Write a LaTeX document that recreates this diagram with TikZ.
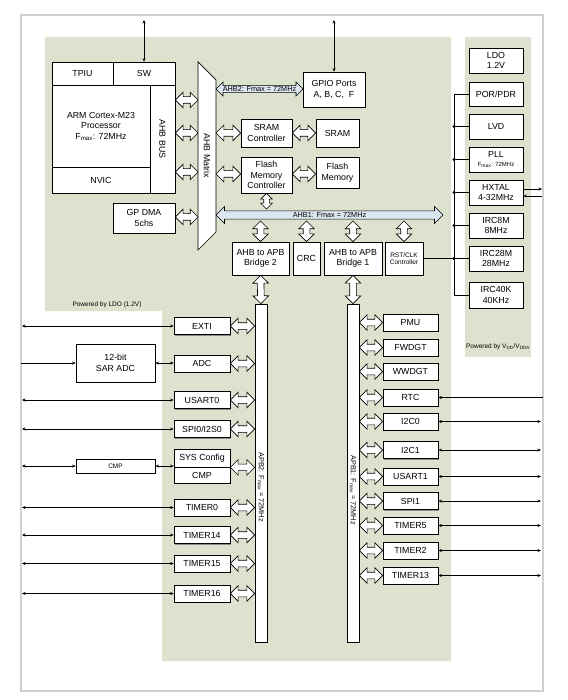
\documentclass[tikz,border=0pt]{standalone}
\usepackage{fontspec}
\setmainfont{Liberation Sans}
\usetikzlibrary{shapes.arrows,arrows.meta,calc,shadows}
\definecolor{panel}{RGB}{221,226,206}
\definecolor{busblue}{RGB}{221,231,242}
\definecolor{framegray}{RGB}{208,208,208}
\newcommand{\fsmain}{\fontsize{8.8}{10.5}\selectfont}
\newcommand{\fssmall}{\fontsize{6.5}{7.5}\selectfont}
% hollow bus arrow between two points
\newcommand{\wide}[3][hollow]{\path let \p1=(#2), \p2=(#3),
  \n1={veclen(\x2-\x1,\y2-\y1)}, \n2={atan2(\y2-\y1,\x2-\x1)} in
  node[#1, minimum height=\n1, rotate=\n2] at ($(\p1)!0.5!(\p2)$) {};}
\begin{document}
\begin{tikzpicture}[x=1pt,y=-1pt,
    box/.style={draw, fill=white, line width=0.7pt, inner sep=0pt, align=center, font=\fsmain,
      drop shadow={shadow xshift=1pt, shadow yshift=-1pt, fill=black!45, opacity=1}},
    hollow/.style={double arrow, draw, fill=white, line width=0.6pt, inner sep=3pt,
      double arrow head extend=4.5pt, double arrow tip angle=90},
    hollowsmall/.style={hollow, inner sep=2.5pt, double arrow head extend=3pt},
    bus/.style={double arrow, draw, fill=busblue, line width=0.6pt, inner sep=0.5pt,
      double arrow head extend=3.5pt, double arrow tip angle=90, font=\fontsize{7.3}{8}\selectfont},
    sig/.style={{Stealth[length=3.5pt,width=3pt]}-{Stealth[length=3.5pt,width=3pt]}, line width=0.5pt},
    sigin/.style={-{Stealth[length=3.5pt,width=3pt]}, line width=0.5pt}]
  \useasboundingbox (0,0) rectangle (567,700);
  \draw[framegray, line width=1.5pt] (21,15) rectangle (543,691);
  \fill[panel] (45,37) -- (451,37) -- (451,661) -- (162,661) -- (162,311) -- (45,311) -- cycle;
  \fill[panel] (465,37) rectangle (531,357);
  \node[font=\fssmall] (ldonote) at (107,305) {Powered by LDO (1.2V)};
  \node[font=\fssmall] (vddnote) at (498,347) {Powered by V\textsubscript{DD}/V\textsubscript{DDA}};

  % core and AHB side
  \node[box, minimum width=61, minimum height=23] (tpiu) at (82.5,73.5) {TPIU};
  \node[box, minimum width=62, minimum height=23] (sw) at (144,73.5) {SW};
  \node[box, minimum width=98, minimum height=82] (core) at (101,126) {ARM Cortex-M23\\Processor\\F\textsubscript{max}: 72MHz};
  \node[box, minimum width=25, minimum height=108] (ahbbus) at (162.5,139) {};
  \node[rotate=-90, font=\fsmain] (ahbbustxt) at (ahbbus) {AHB BUS};
  \node[box, minimum width=98, minimum height=26] (nvic) at (101,180) {NVIC};
  \node[box, minimum width=62, minimum height=30] (dma) at (144,218) {GP DMA\\5chs};
  \draw[fill=white, line width=0.7pt] (198,62) -- (216,80) -- (216,232) -- (198,250) -- cycle;
  \node[rotate=-90, font=\fsmain] (matrix) at (207,156) {AHB Matrix};
  \coordinate (mw1) at (198,100);
  \coordinate (mw2) at (198,133);
  \coordinate (mw3) at (198,172);
  \coordinate (mw4) at (198,217);
  \coordinate (me1) at (216,133);
  \coordinate (me2) at (216,174);
  \coordinate (top) at (0,20);
  \draw[sig] (sw.north) -- (sw.north |- top);

  \node[box, minimum width=62, minimum height=35] (gpio) at (334,89.5) {GPIO Ports\\A, B, C,\ \ F};
  \draw[sig] (gpio.north) -- (gpio.north |- top);
  \node[bus, minimum height=87, minimum width=14] (ahb2) at (259.5,89) {AHB2: Fmax = 72MHz};
  \node[box, minimum width=51, minimum height=28] (sramc) at (266.5,133) {SRAM\\Controller};
  \node[box, minimum width=43, minimum height=28] (sram) at (337.5,133) {SRAM};
  \node[box, minimum width=51, minimum height=36] (flashc) at (266.5,175) {Flash\\Memory\\Controller};
  \node[box, minimum width=43, minimum height=31] (flash) at (337.5,172.5) {Flash\\Memory};
  \node[bus, minimum height=227, minimum width=17] (ahb1) at (329.5,215) {AHB1: Fmax = 72MHz};
  \coordinate (b1t) at (0,209);
  \coordinate (b1b) at (0,221);

  \node[box, minimum width=57, minimum height=33] (bridge2) at (260.5,258.5) {AHB to APB\\Bridge 2};
  \node[box, minimum width=27, minimum height=33] (crc) at (306.5,258.5) {CRC};
  \node[box, minimum width=58, minimum height=33] (bridge1) at (353,258.5) {AHB to APB\\Bridge 1};
  \node[box, minimum width=38, minimum height=33, font=\fssmall] (rstclk) at (404,258.5) {RST/CLK\\Controller};

  \wide{ahbbus.east |- mw1}{mw1}
  \wide{ahbbus.east |- mw2}{mw2}
  \wide{ahbbus.east |- mw3}{mw3}
  \wide{dma.east |- mw4}{mw4}
  \wide{me1}{sramc.west}
  \wide{sramc.east}{sram.west}
  \wide{me2}{flashc.west |- me2}
  \wide{flashc.east |- me2}{flash.west |- me2}
  \wide[hollowsmall]{flashc.south}{flashc.south |- b1t}
  \wide{bridge2.north |- b1b}{bridge2.north}
  \wide{crc.north |- b1b}{crc.north}
  \wide{bridge1.north |- b1b}{bridge1.north}
  \wide{rstclk.north |- b1b}{rstclk.north}

  % clock and power column
  \node[box, minimum width=54, minimum height=25] (ldo) at (496,60.5) {LDO\\1.2V};
  \node[box, minimum width=54, minimum height=24] (por) at (496,94) {POR/PDR};
  \node[box, minimum width=54, minimum height=25] (lvd) at (496,126.5) {LVD};
  \node[box, minimum width=54, minimum height=25] (pll) at (496,159.5) {PLL\\[-2pt]{\fontsize{6}{7}\selectfont F\textsubscript{max}: 72MHz}};
  \node[box, minimum width=54, minimum height=25] (hxtal) at (496,192.5) {HXTAL\\4-32MHz};
  \node[box, minimum width=54, minimum height=25] (irc8) at (496,225.5) {IRC8M\\8MHz};
  \node[box, minimum width=54, minimum height=25] (irc28) at (496,258.5) {IRC28M\\28MHz};
  \node[box, minimum width=54, minimum height=26] (irc40) at (496,295) {IRC40K\\40KHz};
  \coordinate (tree) at (454,0);
  \draw[line width=0.6pt] (por.west) -| (tree |- irc40.west) -- (irc40.west);
  \draw[line width=0.6pt] (lvd.west) -- (lvd.west -| tree);
  \draw[line width=0.6pt] (pll.west) -- (pll.west -| tree);
  \draw[line width=0.6pt] (hxtal.west) -- (hxtal.west -| tree);
  \draw[line width=0.6pt] (irc8.west) -- (irc8.west -| tree);
  \draw[line width=0.6pt] (irc28.west) -- (rstclk.east);
  \fill (lvd.west -| tree) circle (1.6pt);
  \fill (pll.west -| tree) circle (1.6pt);
  \fill (hxtal.west -| tree) circle (1.6pt);
  \fill (irc8.west -| tree) circle (1.6pt);
  \fill (irc28.west -| tree) circle (1.6pt);
  \coordinate (xout) at (542,189);
  \coordinate (xin) at (542,196);
  \draw[sigin] (hxtal.east |- xout) -- (xout);
  \draw[sigin] (xin) -- (hxtal.east |- xin);

  % APB buses
  \node[box, minimum width=12, minimum height=338] (apb2) at (261,473) {};
  \node[rotate=-90, font=\fontsize{7.3}{8}\selectfont] (apb2txt) at (261,487) {APB2: F\textsubscript{max} = 72MHz};
  \node[box, minimum width=12, minimum height=338] (apb1) at (353,473) {};
  \node[rotate=-90, font=\fontsize{7.3}{8}\selectfont] (apb1txt) at (353,490) {APB1: F\textsubscript{max} = 72MHz};
  \wide{bridge2.south}{apb2.north}
  \wide{bridge1.south}{apb1.north}

  % APB2 peripherals
  \coordinate (lx) at (22,0);
  \coordinate (lx0) at (21,0);
  \node[box, minimum width=56, minimum height=17] (exti) at (202,326) {EXTI};
  \node[box, minimum width=56, minimum height=17] (adc) at (202,363.5) {ADC};
  \node[box, minimum width=79, minimum height=38] (sar) at (115.5,363) {12-bit\\SAR ADC};
  \node[box, minimum width=56, minimum height=17] (usart0) at (202,400) {USART0};
  \node[box, minimum width=56, minimum height=17] (spi0) at (202,429) {SPI0/I2S0};
  \node[box, minimum width=56, minimum height=18] (syscfg) at (202,458) {SYS Config};
  \node[box, minimum width=56, minimum height=16] (cmp) at (202,475) {CMP};
  \node[box, minimum width=79, minimum height=14, font=\fssmall] (cmps) at (115.5,466) {CMP};
  \node[box, minimum width=56, minimum height=17] (timer0) at (202,507.5) {TIMER0};
  \node[box, minimum width=56, minimum height=17] (timer14) at (202,535) {TIMER14};
  \node[box, minimum width=56, minimum height=17] (timer15) at (202,563.5) {TIMER15};
  \node[box, minimum width=56, minimum height=17] (timer16) at (202,593.5) {TIMER16};
  \wide{exti.east}{exti.east -| apb2.west}
  \wide{adc.east}{adc.east -| apb2.west}
  \wide{usart0.east}{usart0.east -| apb2.west}
  \wide{spi0.east}{spi0.east -| apb2.west}
  \wide{syscfg.south east}{syscfg.south east -| apb2.west}
  \wide{timer0.east}{timer0.east -| apb2.west}
  \wide{timer14.east}{timer14.east -| apb2.west}
  \wide{timer15.east}{timer15.east -| apb2.west}
  \wide{timer16.east}{timer16.east -| apb2.west}
  \draw[sig] (exti.west) -- (exti.west -| lx);
  \draw[sigin] (sar.west -| lx0) -- (sar.west);
  \draw[sig] (sar.east) -- (sar.east -| adc.west);
  \draw[sig] (usart0.west) -- (usart0.west -| lx);
  \draw[sig] (spi0.west) -- (spi0.west -| lx);
  \draw[sig] (cmps.west) -- (cmps.west -| lx);
  \draw[sig] (cmps.east) -- (cmps.east -| cmp.west);
  \draw[sig] (timer0.west) -- (timer0.west -| lx);
  \draw[sig] (timer14.west) -- (timer14.west -| lx);
  \draw[sig] (timer15.west) -- (timer15.west -| lx);
  \draw[sig] (timer16.west) -- (timer16.west -| lx);

  % APB1 peripherals
  \coordinate (rx) at (541,0);
  \coordinate (rx0) at (543,0);
  \node[box, minimum width=55, minimum height=17] (pmu) at (410.5,322.5) {PMU};
  \node[box, minimum width=55, minimum height=17] (fwdgt) at (410.5,347.5) {FWDGT};
  \node[box, minimum width=55, minimum height=17] (wwdgt) at (410.5,371.5) {WWDGT};
  \node[box, minimum width=55, minimum height=17] (rtc) at (410.5,397.5) {RTC};
  \node[box, minimum width=55, minimum height=17] (i2c0) at (410.5,421.5) {I2C0};
  \node[box, minimum width=55, minimum height=17] (i2c1) at (410.5,450) {I2C1};
  \node[box, minimum width=55, minimum height=17] (usart1) at (410.5,476.5) {USART1};
  \node[box, minimum width=55, minimum height=17] (spi1) at (410.5,501) {SPI1};
  \node[box, minimum width=55, minimum height=17] (timer5) at (410.5,525.5) {TIMER5};
  \node[box, minimum width=55, minimum height=17] (timer2) at (410.5,550.5) {TIMER2};
  \node[box, minimum width=55, minimum height=17] (timer13) at (410.5,575.5) {TIMER13};
  \wide{pmu.west -| apb1.east}{pmu.west}
  \wide{fwdgt.west -| apb1.east}{fwdgt.west}
  \wide{wwdgt.west -| apb1.east}{wwdgt.west}
  \wide{rtc.west -| apb1.east}{rtc.west}
  \wide{i2c0.west -| apb1.east}{i2c0.west}
  \wide{i2c1.west -| apb1.east}{i2c1.west}
  \wide{usart1.west -| apb1.east}{usart1.west}
  \wide{spi1.west -| apb1.east}{spi1.west}
  \wide{timer5.west -| apb1.east}{timer5.west}
  \wide{timer2.west -| apb1.east}{timer2.west}
  \wide{timer13.west -| apb1.east}{timer13.west}
  \draw[sigin] (rtc.east -| rx0) -- (rtc.east);
  \draw[sig] (i2c0.east) -- (i2c0.east -| rx);
  \draw[sig] (i2c1.east) -- (i2c1.east -| rx);
  \draw[sig] (usart1.east) -- (usart1.east -| rx);
  \draw[sig] (spi1.east) -- (spi1.east -| rx);
  \draw[sig] (timer5.east) -- (timer5.east -| rx);
  \draw[sig] (timer2.east) -- (timer2.east -| rx);
  \draw[sig] (timer13.east) -- (timer13.east -| rx);
\end{tikzpicture}
\end{document}
